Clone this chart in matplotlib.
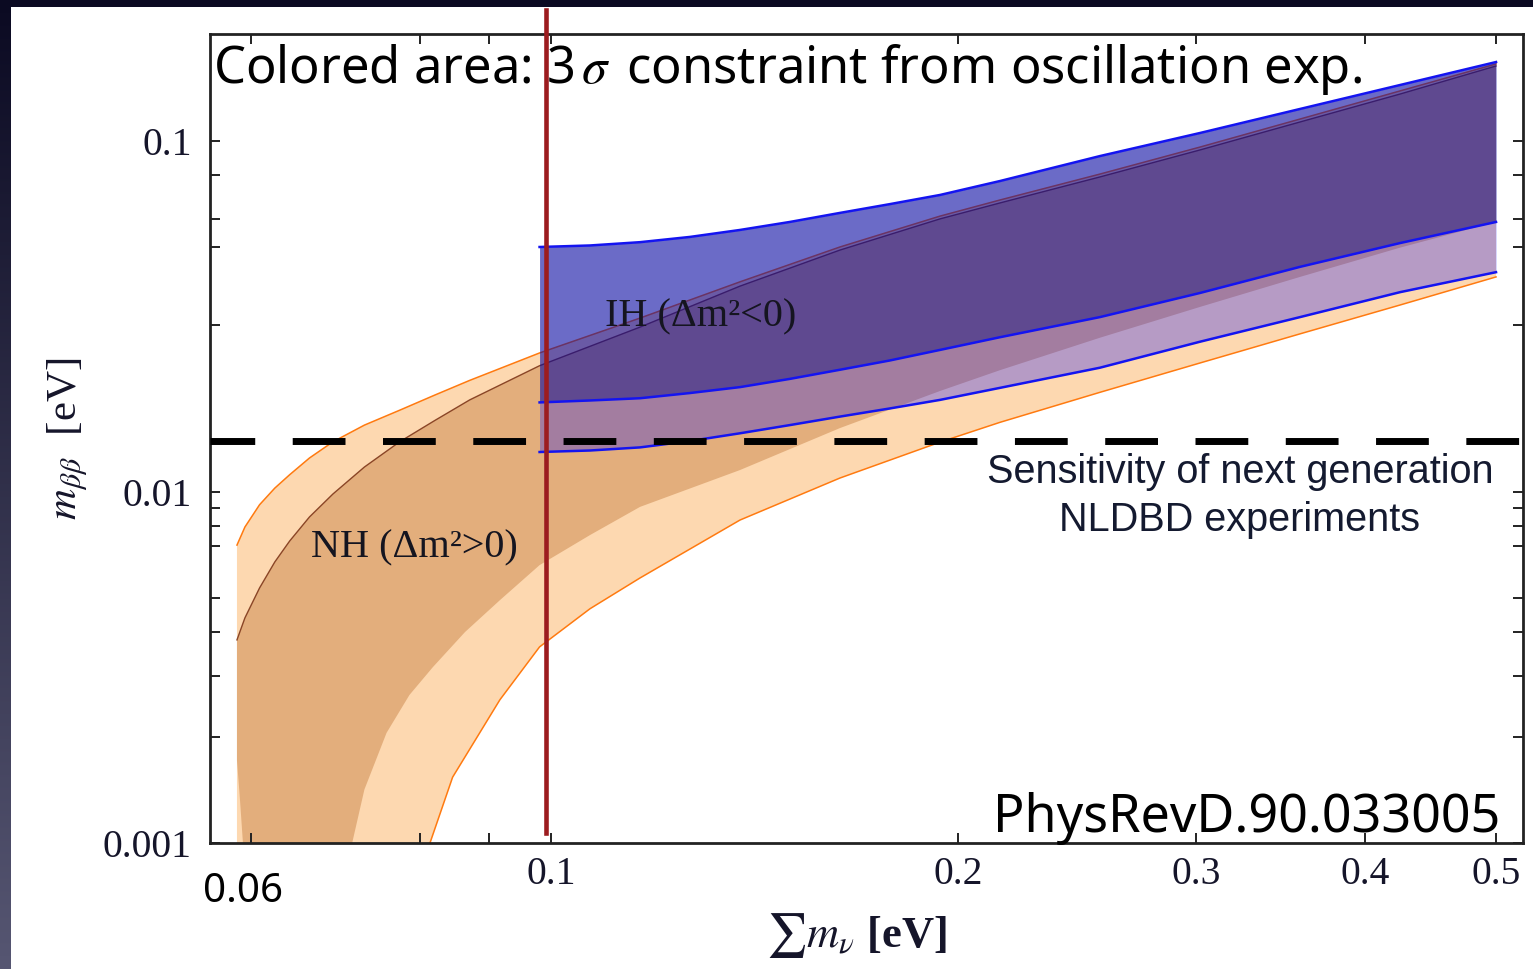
import numpy as np
import matplotlib
matplotlib.use("Agg")
import matplotlib.pyplot as plt
from matplotlib import transforms
from matplotlib.patches import Rectangle
from matplotlib.lines import Line2D
from matplotlib.ticker import NullFormatter

plt.rcParams["mathtext.fontset"] = "stix"
plt.rcParams["lines.scale_dashes"] = False

# ---- effective Majorana mass m_bb [eV] versus sum of neutrino masses [eV]
# Normal hierarchy: upper edges of the 3-sigma band and of the best-fit band
nh_sum = [0.0586, 0.0594, 0.0609, 0.0625, 0.0641, 0.0663, 0.0690, 0.0728, 0.0773,
          0.0821, 0.0871, 0.0981, 0.1164, 0.1380, 0.1636, 0.1940, 0.2148, 0.2547,
          0.3020, 0.3581, 0.4246, 0.5]
nh_3s_upper = [0.00706, 0.00795, 0.0092, 0.01026, 0.0112, 0.0125, 0.0139, 0.01551,
               0.0171, 0.0189, 0.0208, 0.0249, 0.0313, 0.0397, 0.0499, 0.0611, 0.0679,
               0.0805, 0.0961, 0.1155, 0.1389, 0.1658]
nh_bf_upper = [0.00379, 0.00438, 0.00533, 0.00632, 0.00725, 0.00849, 0.00987, 0.01178,
               0.0139, 0.0160, 0.0183, 0.0229, 0.0295, 0.0386, 0.0489, 0.0600, 0.0666,
               0.0790, 0.0943, 0.1133, 0.1361, 0.1636]
# Normal hierarchy lower edges (1e-5 marks m_bb -> 0, below the plotted range)
nh_bf_lower_sum = [0.0586, 0.0589, 0.0592, 0.0595, 0.0705, 0.0713, 0.0728, 0.0756,
                   0.0786, 0.0818, 0.0864, 0.0917, 0.0981, 0.1069, 0.1164, 0.1380,
                   0.1636, 0.1940, 0.2148, 0.2547, 0.3020, 0.3581, 0.4246, 0.5]
nh_bf_lower = [0.00172, 0.00133, 0.00100, 1e-5, 1e-5, 0.00100, 0.00142, 0.00206,
               0.00264, 0.00317, 0.00399, 0.00492, 0.00619, 0.00754, 0.00907, 0.01155,
               0.01521, 0.0194, 0.02223, 0.02751, 0.03367, 0.0410, 0.04968, 0.0588]
nh_3s_lower_sum = [0.0586, 0.0805, 0.0814, 0.0846, 0.0917, 0.0981, 0.1069, 0.1164,
                   0.1380, 0.1636, 0.1940, 0.2148, 0.2547, 0.3020, 0.3581, 0.4246, 0.5]
nh_3s_lower = [1e-5, 1e-5, 0.00100, 0.00154, 0.00256, 0.00362, 0.00465, 0.00569,
               0.00832, 0.01096, 0.01387, 0.01579, 0.01923, 0.02331, 0.02822, 0.0341,
               0.0410]

# Inverted hierarchy
ih_sum = [0.0981, 0.1069, 0.1164, 0.1267, 0.1380, 0.1502, 0.1636, 0.1781, 0.1940,
          0.2148, 0.2547, 0.3020, 0.3581, 0.4246, 0.5]
ih_upper = [0.0499, 0.0504, 0.0515, 0.0533, 0.0558, 0.0588, 0.0624, 0.0661, 0.0702,
            0.0769, 0.0906, 0.1054, 0.1234, 0.1444, 0.1679]
ih_bf_lower = [0.0180, 0.01823, 0.0185, 0.01914, 0.0199, 0.0210, 0.0223, 0.0237,
               0.0254, 0.0276, 0.0315, 0.0369, 0.0438, 0.0512, 0.0588]
ih_3s_lower = [0.0130, 0.01313, 0.0134, 0.01397, 0.0147, 0.01551, 0.0164, 0.0173,
               0.0183, 0.0198, 0.0226, 0.0268, 0.0315, 0.0371, 0.0423]

sensitivity = 0.014      # next-generation 0vbb reach [eV]
sum_m_marker = 0.0992    # vertical marker on the sum of masses [eV]

x_major = [0.1, 0.2, 0.3, 0.4, 0.5]
x_major_labels = ["0.1", "0.2", "0.3", "0.4", "0.5"]
x_minor = [0.06, 0.08, 0.09]
y_major = [0.001, 0.01, 0.1]
y_major_labels = ["0.001", "0.01", "0.1"]
y_minor = [0.002, 0.003, 0.004, 0.005, 0.007, 0.008, 0.009, 0.03, 0.05, 0.06, 0.08]

# ---- figure / slide frame
W, H = 1533, 969
fig = plt.figure(figsize=(W / 100, H / 100), dpi=100, facecolor="white")

top_col = np.array([11, 10, 34]) / 255
bot_col = np.array([86, 86, 114]) / 255
t = np.linspace(0, 1, H)[:, None]
strip = (top_col[None, :] * (1 - t) + bot_col[None, :] * t)[:, None, :]
strip = np.repeat(strip, 11, axis=1)
fig.figimage(strip, xo=0, yo=0, origin="upper", zorder=0)
fig.add_artist(Rectangle((0, 1 - 7 / H), 1, 7 / H, transform=fig.transFigure,
                         facecolor="#0b0a22", edgecolor="none", zorder=0))

ax = fig.add_axes([210 / W, (H - 843) / H, (1523 - 210) / W, (843 - 34) / H])
ax.set_xscale("log")
ax.set_yscale("log")
ax.set_xlim(0.05597, 0.5235)
ax.set_ylim(0.001, 0.2018)

# NH bands
nh_light = "#fdd8b0"
nh_dark = "#e3ae7c"
ax.fill(np.concatenate([nh_sum, nh_3s_lower_sum[::-1]]),
        np.concatenate([nh_3s_upper, nh_3s_lower[::-1]]),
        color=nh_light, lw=0, zorder=1)
ax.fill(np.concatenate([nh_sum, nh_bf_lower_sum[::-1]]),
        np.concatenate([nh_bf_upper, nh_bf_lower[::-1]]),
        color=nh_dark, lw=0, zorder=1.1)
ax.plot(nh_sum, nh_3s_upper, color="#ff7a10", lw=1.1, zorder=1.5)
ax.plot(nh_3s_lower_sum, nh_3s_lower, color="#ff7a10", lw=1.1, zorder=1.5)
ax.plot(nh_sum, nh_bf_upper, color="#8a4526", lw=1.0, zorder=1.5)

# IH bands (translucent over NH)
ax.fill_between(ih_sum, ih_bf_lower, ih_upper, color=(0, 0, 160 / 255),
                alpha=0.58, lw=0, zorder=2)
ax.fill_between(ih_sum, ih_3s_lower, ih_bf_lower, color=(0, 0, 1),
                alpha=0.28, lw=0, zorder=2)
for yy in (ih_upper, ih_bf_lower, ih_3s_lower):
    ax.plot(ih_sum, yy, color="#1414f0", lw=1.8, zorder=2.5)

# sensitivity line
ax.axhline(sensitivity, color="black", lw=5.0, ls=(5.8, (38, 27)), zorder=3)

# axes styling
for s in ax.spines.values():
    s.set_linewidth(2.0)
    s.set_color("#222222")
ax.set_xticks(x_major, labels=x_major_labels)
ax.set_xticks(x_minor, minor=True)
ax.set_yticks(y_major, labels=y_major_labels)
ax.set_yticks(y_minor, minor=True)
ax.xaxis.set_minor_formatter(NullFormatter())
ax.yaxis.set_minor_formatter(NullFormatter())
ax.tick_params(which="both", direction="in", length=7.2, width=1.4,
               top=True, right=True, color="#222222")
ax.tick_params(axis="x", which="major", pad=9, labelsize=28.5, labelcolor="#15152a")
ax.tick_params(axis="y", which="major", pad=13, labelsize=28.5, labelcolor="#15152a")
for lab in ax.get_xticklabels() + ax.get_yticklabels():
    lab.set_fontfamily("Liberation Serif")

ax.set_xlabel(r"$\sum m_{\nu}$ [eV]", fontsize=32, fontfamily="Liberation Serif",
              fontweight="bold", color="#15152a")
ax.xaxis.set_label_coords((856 - 210) / 1313, (843 - 935) / 809)
ax.xaxis.label.set_va("center")
ax.set_ylabel(r"$m_{\beta\beta}$  [eV]", fontsize=31, fontfamily="Liberation Serif",
              color="#15152a")
ax.yaxis.set_label_coords((68 - 210) / 1313, 0.5)
ax.yaxis.label.set_va("center")

# band labels
ax.text(0.1096, 0.0315, "IH (Δm²<0)", fontsize=29, fontfamily="Liberation Serif",
        color="#151520", ha="left", va="center", zorder=4)
ax.text(0.0665, 0.00693, "NH (Δm²>0)", fontsize=29, fontfamily="Liberation Serif",
        color="#151520", ha="left", va="center", zorder=4)
ax.text(0.3233, 0.0114, "Sensitivity of next generation", fontsize=28.5,
        fontfamily="Liberation Sans", color="#141a30",
        ha="center", va="center", zorder=4)
ax.text(0.3233, 0.00832, "NLDBD experiments", fontsize=28.5,
        fontfamily="Liberation Sans", color="#141a30",
        ha="center", va="center", zorder=4)

# slide annotations
sans = ["Noto Sans", "DejaVu Sans"]
fig.text(213 / W, 1 - 83 / H, r"Colored area: 3$\,\sigma\,$ constraint from oscillation exp.",
         fontsize=36.5, fontfamily=sans, color="black", ha="left", va="baseline", zorder=6)
fig.text(1500 / W, 1 - 832 / H, "PhysRevD.90.033005", fontsize=37.5, fontfamily=sans,
         color="black", ha="right", va="baseline", zorder=6)
fig.text(243 / W, 1 - 902 / H, "0.06", fontsize=29, fontfamily=sans,
         color="black", ha="center", va="baseline", zorder=6)

trans = transforms.blended_transform_factory(ax.transData, fig.transFigure)
fig.add_artist(Line2D([sum_m_marker, sum_m_marker], [1 - 833 / H, 1 - 10 / H],
                      transform=trans, color="#9c1c1f", lw=3.3, zorder=7))

fig.savefig("out.png", dpi=100, facecolor="white")
